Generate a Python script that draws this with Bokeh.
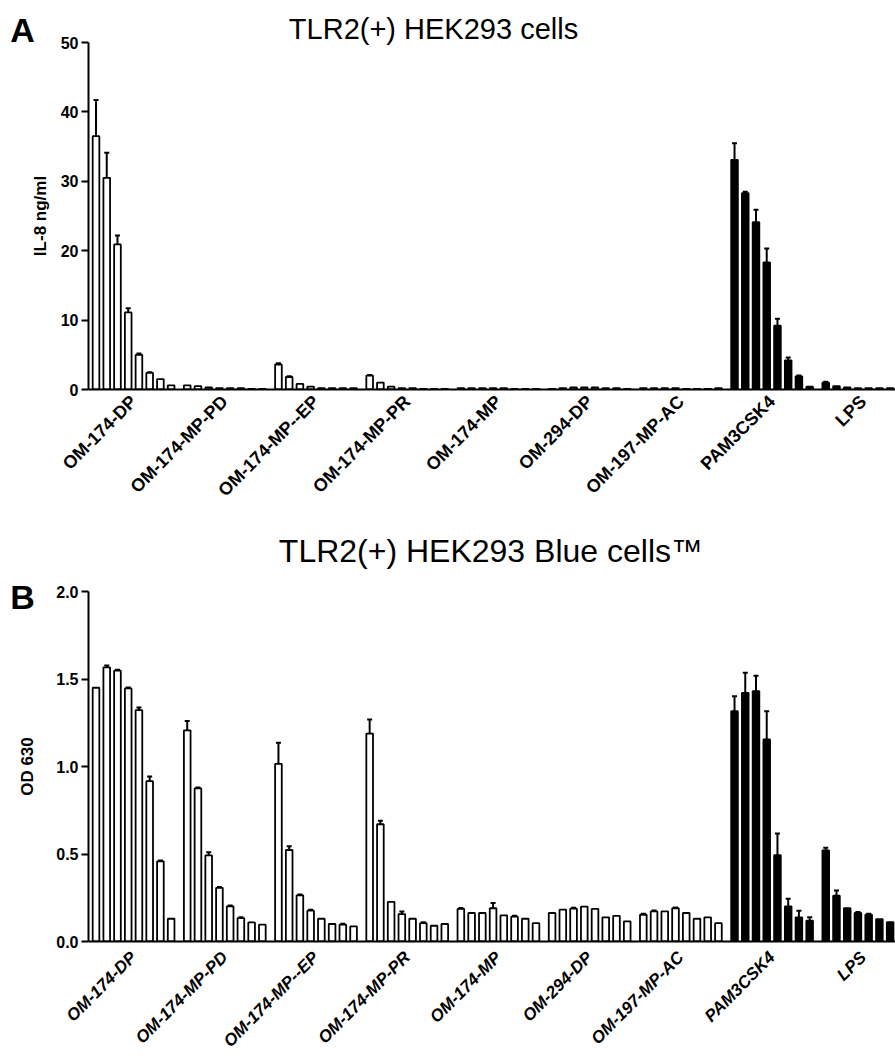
import math
from bokeh.plotting import figure
from bokeh.models import (Range1d, ColumnDataSource, Whisker, TeeHead, Label,
                          FixedTicker, NumeralTickFormatter, CustomJSTickFormatter)
from bokeh.layouts import column
from bokeh.embed import file_html
from bokeh.resources import INLINE

# ---------------- data ----------------
groups = ["OM-174-DP", "OM-174-MP-PD", "OM-174-MP--EP", "OM-174-MP-PR", "OM-174-MP",
          "OM-294-DP", "OM-197-MP-AC", "PAM3CSK4", "LPS"]
filled_groups = ["PAM3CSK4", "LPS"]

title_a = "TLR2(+) HEK293 cells"
title_b = "TLR2(+) HEK293 Blue cells\u2122"
ylabel_a = "IL-8 ng/ml"
ylabel_b = "OD 630"
yticks_a = [0, 10, 20, 30, 40, 50]
yticks_b = [0.0, 0.5, 1.0, 1.5, 2.0]

# Panel A: IL-8 ng/ml (mean, error)
il8_mean = [
    [36.5, 30.5, 20.9, 11.1, 5.0, 2.4, 1.5, 0.6],
    [0.6, 0.5, 0.3, 0.2, 0.2, 0.2, 0.1, 0.1],
    [3.6, 1.8, 0.8, 0.4, 0.2, 0.2, 0.2, 0.2],
    [2.0, 1.0, 0.4, 0.2, 0.2, 0.1, 0.1, 0.1],
    [0.2, 0.2, 0.2, 0.2, 0.2, 0.1, 0.1, 0.1],
    [0.1, 0.2, 0.3, 0.3, 0.3, 0.2, 0.2, 0.1],
    [0.2, 0.2, 0.2, 0.2, 0.1, 0.1, 0.1, 0.2],
    [33.1, 28.3, 24.1, 18.3, 9.2, 4.2, 1.9, 0.4],
    [1.0, 0.5, 0.3, 0.2, 0.2, 0.2, 0.2],
]
il8_err = [
    [5.2, 3.6, 1.3, 0.6, 0.2, 0.1, 0.0, 0.0],
    [0.0, 0.0, 0.0, 0.0, 0.0, 0.0, 0.0, 0.0],
    [0.2, 0.1, 0.0, 0.0, 0.0, 0.0, 0.0, 0.0],
    [0.1, 0.0, 0.0, 0.0, 0.0, 0.0, 0.0, 0.0],
    [0.0, 0.0, 0.0, 0.0, 0.0, 0.0, 0.0, 0.0],
    [0.0, 0.0, 0.0, 0.0, 0.0, 0.0, 0.0, 0.0],
    [0.0, 0.0, 0.0, 0.0, 0.0, 0.0, 0.0, 0.0],
    [2.4, 0.2, 1.8, 2.0, 1.0, 0.4, 0.1, 0.0],
    [0.1, 0.0, 0.0, 0.0, 0.0, 0.0, 0.0],
]

# Panel B: OD 630 (mean, error)
od_mean = [
    [1.45, 1.567, 1.548, 1.446, 1.322, 0.916, 0.458, 0.130],
    [1.207, 0.875, 0.492, 0.307, 0.201, 0.134, 0.109, 0.096],
    [1.015, 0.523, 0.264, 0.176, 0.130, 0.100, 0.096, 0.086],
    [1.188, 0.670, 0.226, 0.157, 0.130, 0.105, 0.090, 0.100],
    [0.186, 0.163, 0.163, 0.190, 0.149, 0.142, 0.130, 0.105],
    [0.163, 0.182, 0.188, 0.199, 0.186, 0.138, 0.147, 0.115],
    [0.153, 0.172, 0.172, 0.190, 0.163, 0.130, 0.138, 0.105],
    [1.316, 1.421, 1.431, 1.155, 0.494, 0.201, 0.138, 0.119],
    [0.521, 0.262, 0.190, 0.163, 0.153, 0.128, 0.111],
]
od_err = [
    [0.0, 0.010, 0.005, 0.005, 0.015, 0.027, 0.005, 0.0],
    [0.053, 0.005, 0.018, 0.005, 0.005, 0.005, 0.0, 0.0],
    [0.121, 0.021, 0.005, 0.005, 0.0, 0.0, 0.005, 0.0],
    [0.080, 0.020, 0.0, 0.015, 0.0, 0.005, 0.0, 0.0],
    [0.005, 0.0, 0.0, 0.030, 0.0, 0.005, 0.0, 0.0],
    [0.0, 0.0, 0.005, 0.0, 0.0, 0.0, 0.0, 0.0],
    [0.005, 0.005, 0.0, 0.005, 0.0, 0.0, 0.0, 0.0],
    [0.086, 0.115, 0.088, 0.161, 0.123, 0.044, 0.038, 0.019],
    [0.015, 0.029, 0.0, 0.005, 0.005, 0.0, 0.0],
]

# ---------------- layout constants ----------------
SLOT_GROUP = 8.5       # slots per group (8 bars + gap)
BAR_W = 0.62
X0, X1 = -0.2, 75.0
FONT = "Liberation Sans"
INK = "black"


def build_sources(means, errs):
    xs, tops, colors, ex, elo, ehi = [], [], [], [], [], []
    for g, (vals, ers) in enumerate(zip(means, errs)):
        col = "black" if groups[g] in filled_groups else "white"
        for i, (v, e) in enumerate(zip(vals, ers)):
            x = g * SLOT_GROUP + i + 0.5
            xs.append(x); tops.append(v); colors.append(col)
            if e > 0:
                ex.append(x); elo.append(v); ehi.append(v + e)
    bars = ColumnDataSource(dict(x=xs, top=tops, color=colors))
    errsrc = ColumnDataSource(dict(x=ex, lower=elo, upper=ehi))
    return bars, errsrc


def make_panel(means, errs, yr, yticks, ylabel, fmt,
               top_border, bottom_border, frame_h, label_size, label_style,
               label_standoff, label_angle, axis_label_standoff):
    p = figure(frame_width=807, frame_height=frame_h,
               x_range=Range1d(X0, X1), y_range=Range1d(*yr),
               output_backend="svg", toolbar_location=None,
               min_border_left=88, min_border_right=0,
               min_border_top=top_border, min_border_bottom=bottom_border)
    p.outline_line_color = None
    p.grid.visible = False
    p.background_fill_color = "white"

    bars, errsrc = build_sources(means, errs)
    p.add_layout(Whisker(base="x", lower="lower", upper="upper", source=errsrc,
                         line_width=2, line_color=INK,
                         upper_head=TeeHead(size=5, line_width=2, line_color=INK),
                         lower_head=None), "center")
    p.vbar(x="x", top="top", bottom=0, width=BAR_W, source=bars,
           fill_color="color", line_color=INK, line_width=1.8)

    # y axis
    ya = p.yaxis[0]
    ya.ticker = FixedTicker(ticks=yticks)
    ya.formatter = NumeralTickFormatter(format=fmt)
    ya.axis_label = ylabel
    ya.axis_label_text_font = FONT
    ya.axis_label_text_font_style = "bold"
    ya.axis_label_text_font_size = "17px"
    ya.axis_label_text_color = INK
    ya.axis_label_standoff = axis_label_standoff
    ya.major_label_text_font = FONT
    ya.major_label_text_font_style = "bold"
    ya.major_label_text_font_size = "16px"
    ya.major_label_text_color = INK
    ya.major_label_standoff = 3
    ya.major_tick_out = 7
    ya.major_tick_in = 0
    ya.minor_tick_out = 0
    ya.minor_tick_in = 0
    ya.axis_line_width = 2
    ya.axis_line_color = INK
    ya.major_tick_line_width = 2
    ya.major_tick_line_color = INK

    # x axis
    xa = p.xaxis[0]
    xa.ticker = FixedTicker(ticks=[g * SLOT_GROUP + 4.0 for g in range(len(groups))])
    xa.formatter = CustomJSTickFormatter(args=dict(names=groups, step=SLOT_GROUP),
                                         code="return names[Math.round((tick - 4.0) / step)];")
    xa.major_label_orientation = label_angle
    xa.major_label_text_font = FONT
    xa.major_label_text_font_style = label_style
    xa.major_label_text_font_size = label_size
    xa.major_label_text_color = INK
    xa.major_label_standoff = label_standoff
    xa.major_tick_out = 0
    xa.major_tick_in = 0
    xa.minor_tick_out = 0
    xa.minor_tick_in = 0
    xa.axis_line_width = 2
    xa.axis_line_color = INK
    return p


def text_label(x, y, text, size, style, align):
    return Label(x=x, y=y, text=text, text_font=FONT, text_font_style=style,
                 text_font_size=size, text_color=INK, text_align=align,
                 text_baseline="middle")


pA = make_panel(il8_mean, il8_err, (0, 50), yticks_a, ylabel_a, "0",
                top_border=42, bottom_border=120, frame_h=347,
                label_size="18px", label_style="bold", label_standoff=9,
                label_angle=math.pi / 4, axis_label_standoff=8)
pB = make_panel(od_mean, od_err, (0, 2.0), yticks_b, ylabel_b, "0.0",
                top_border=81, bottom_border=118, frame_h=350,
                label_size="17px", label_style="bold italic", label_standoff=13,
                label_angle=math.pi / 4, axis_label_standoff=16)

# titles and panel letters, kept in side panels so they are not clipped to the frame
pA.add_layout(text_label(31.95, 51.95, title_a, "29px", "normal", "center"), "above")
pA.add_layout(text_label(-7.5, 51.8, "A", "34px", "bold", "left"), "left")
pB.add_layout(text_label(-7.5, 1.966, "B", "34px", "bold", "left"), "above")
pB.add_layout(text_label(37.3, 2.229, title_b, "32px", "normal", "center"), "above")

layout = column(pA, pB)
open("out.html", "w").write(file_html(layout, INLINE))
